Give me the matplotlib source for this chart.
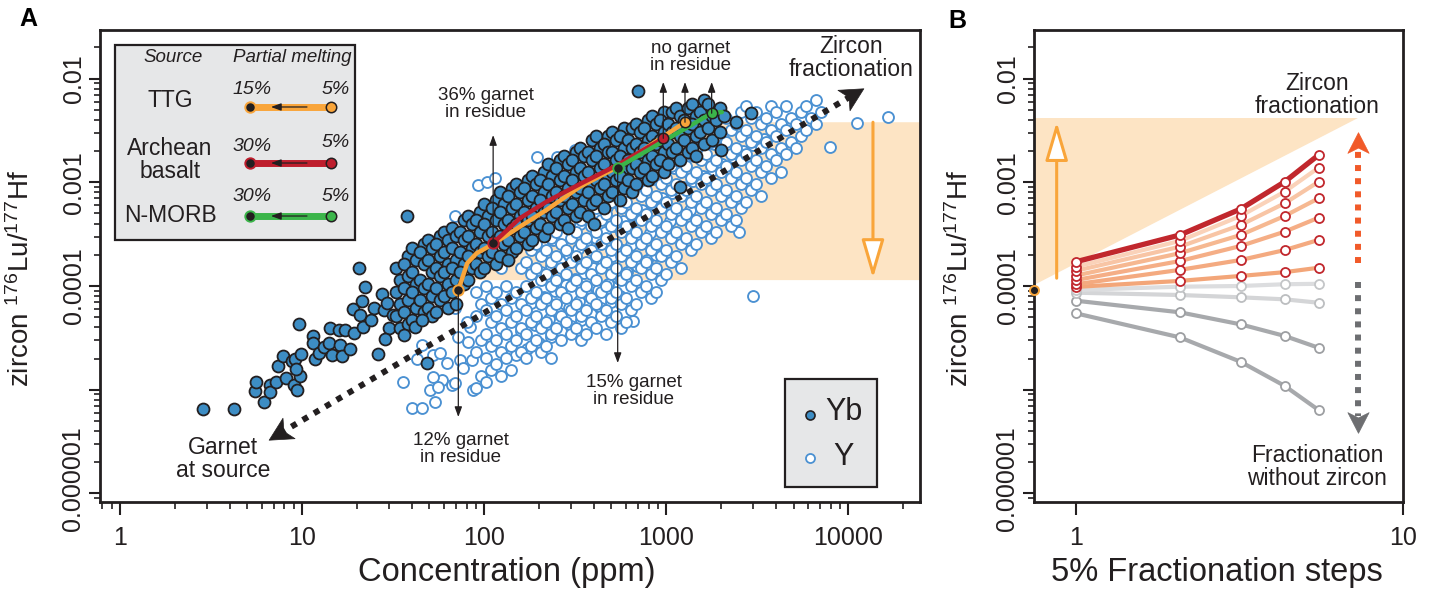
import numpy as np
import matplotlib
matplotlib.use("Agg")
import matplotlib.pyplot as plt
from matplotlib.path import Path
from matplotlib.markers import MarkerStyle
from matplotlib.transforms import Affine2D
from matplotlib.patches import Rectangle
from matplotlib.ticker import FixedLocator, FixedFormatter, LogLocator, NullFormatter, NullLocator

plt.rcParams['font.family'] = ['Liberation Sans', 'DejaVu Sans']
plt.rcParams['mathtext.fontset'] = 'custom'
plt.rcParams['mathtext.rm'] = 'Liberation Sans'
plt.rcParams['mathtext.it'] = 'Liberation Sans:italic'

# ------------------------------------------------------------------ data
# Panel A - zircon Yb (filled symbols): concentration (ppm) and 176Lu/177Hf
yb_ppm = [
    2.84, 4.24, 6.2, 5.5, 5.6, 6.66, 6.7, 7.2, 7.4, 7.9, 8.2, 8.8, 9.1, 9.0, 9.4, 9.7,
    9.9, 9.3, 9.6, 11.5, 11.5, 11.8, 12.4, 13.2, 14.0, 14.2, 14.6, 16.0, 16.1, 16.6, 17.3, 18.3,
    19.2, 19.0, 20.5, 22.2, 20.8, 21.2, 21.7, 24.0, 24.9, 26.2, 27.4, 28.1, 29.4, 30.0, 28.7, 31.5,
    32.8, 34.5, 32.8, 34.5, 32.8, 34.5,
    38.2, 36.3, 38.2, 36.3, 38.2, 36.3, 38.2,
    40.2, 42.3, 40.2, 42.3, 40.2, 42.3, 40.2,
    46.7, 44.4, 46.7, 44.4, 46.7, 44.4, 46.7,
    49.1, 51.7, 49.1, 51.7, 49.1, 51.7, 49.1, 51.7,
    57.2, 54.4, 57.2, 54.4, 57.2, 54.4, 57.2, 54.4,
    60.2, 63.3, 60.2, 63.3, 60.2, 63.3, 60.2, 63.3,
    66.6, 70.0, 66.6, 70.0, 66.6, 70.0, 66.6, 70.0,
    77.4, 73.6, 77.4, 73.6, 77.4, 73.6, 77.4,
    81.5, 85.7, 81.5, 85.7, 81.5, 85.7, 81.5,
    94.8, 90.1, 94.8, 90.1, 94.8, 90.1, 94.8,
    99.7, 105, 99.7, 105, 99.7, 105, 99.7,
    116, 110, 116, 110, 116, 110, 116,
    122, 128, 122, 128, 122, 128, 122,
    142, 135, 142, 135, 142, 135, 142, 135,
    149, 157, 149, 157, 149, 157, 149,
    174, 165, 174, 165, 174, 165, 174,
    183, 192, 183, 192, 183, 192, 183,
    213, 202, 213, 202, 213, 202, 213,
    224, 235, 224, 235, 224, 235, 224,
    261, 248, 261, 248, 261, 248, 261,
    274, 288, 274, 288, 274, 288, 274, 288,
    319, 303, 319, 303, 319, 303, 319,
    336, 353, 336, 353, 336, 353, 336,
    391, 372, 391, 372, 391, 372, 391, 372,
    411, 433, 411, 433, 411, 433, 411,
    479, 455, 479, 455, 479, 455, 479, 455,
    503, 530, 503, 530, 503, 530, 503,
    586, 557, 586, 557, 586, 557, 586, 557,
    648, 616, 648, 616, 648, 616, 648,
    682, 717, 682, 717, 682, 717, 682,
    793, 754, 793, 754, 793, 754, 793,
    834, 878, 834, 878, 834, 878, 834,
    971, 923, 971, 923, 971, 923, 971,
    1074, 1021, 1074, 1021, 1074, 1021,
    1130, 1189, 1130, 1189, 1130, 1189,
    1315, 1250, 1315, 1250, 1315,
    1383, 1455, 1383, 1455, 1383, 1455,
    1610, 1531, 1610, 1531, 1610,
    1694, 1782, 1694, 1782,
    1972, 1874, 1972,
    2074,
    700, 2930, 2400, 2000, 1190, 400, 37.5, 48.6, 36.5, 41.7, 45.7,
]
yb_ratio = [
    6.5e-6, 6.5e-6, 7.7e-6, 9.7e-6, 1.2e-5, 1.1e-5, 9.5e-6, 1.2e-5, 1.7e-5, 2.1e-5, 1.3e-5, 1.9e-5, 2.0e-5, 1.1e-5, 1.0e-5, 1.35e-5,
    2.2e-5, 1.6e-5, 4.3e-5, 3.3e-5, 2.8e-5, 2.0e-5, 2.25e-5, 2.6e-5, 2.85e-5, 3.9e-5, 2.15e-5, 3.8e-5, 2.7e-5, 2.1e-5, 3.8e-5, 2.45e-5,
    3.5e-5, 6.0e-5, 1.5e-4, 9.85e-5, 5.3e-5, 7.2e-5, 4.05e-5, 4.7e-5, 6.2e-5, 2.2e-5, 8.3e-5, 5.9e-5, 6.9e-5, 3.9e-5, 3.1e-5, 5.2e-5,
    1.49e-4, 1.14e-4, 8.8e-5, 6.7e-5, 5.1e-5, 3.9e-5,
    1.95e-4, 1.63e-4, 1.25e-4, 9.6e-5, 7.33e-5, 5.6e-5, 4.3e-5,
    2.33e-4, 1.78e-4, 1.37e-4, 1.05e-4, 8.8e-5, 6.1e-5, 4.7e-5,
    2.54e-4, 2.13e-4, 1.63e-4, 1.14e-4, 9.6e-5, 7.33e-5, 5.6e-5,
    2.78e-4, 2.33e-4, 1.78e-4, 1.37e-4, 1.05e-4, 8.0e-5, 6.1e-5, 5.1e-5,
    3.04e-4, 2.54e-4, 1.95e-4, 1.49e-4, 1.25e-4, 9.6e-5, 7.33e-5, 5.6e-5,
    3.32e-4, 2.78e-4, 2.13e-4, 1.63e-4, 1.37e-4, 1.05e-4, 8.0e-5, 6.1e-5,
    3.63e-4, 3.04e-4, 2.33e-4, 1.78e-4, 1.49e-4, 1.14e-4, 8.8e-5, 6.7e-5,
    4.33e-4, 3.32e-4, 2.78e-4, 2.13e-4, 1.63e-4, 1.37e-4, 1.05e-4,
    4.7e-4, 3.96e-4, 3.04e-4, 2.33e-4, 1.95e-4, 1.49e-4, 1.14e-4,
    5.2e-4, 4.33e-4, 3.32e-4, 2.54e-4, 2.13e-4, 1.63e-4, 1.37e-4,
    6.2e-4, 4.7e-4, 3.96e-4, 3.04e-4, 2.33e-4, 1.95e-4, 1.49e-4,
    6.74e-4, 5.6e-4, 4.33e-4, 3.32e-4, 2.78e-4, 2.13e-4, 1.63e-4,
    8.1e-4, 6.2e-4, 5.2e-4, 3.96e-4, 3.04e-4, 2.54e-4, 1.95e-4,
    8.8e-4, 7.4e-4, 5.6e-4, 4.33e-4, 3.63e-4, 2.78e-4, 2.13e-4, 1.78e-4,
    9.6e-4, 8.1e-4, 6.2e-4, 4.7e-4, 3.96e-4, 3.04e-4, 2.33e-4,
    1.05e-3, 8.8e-4, 6.74e-4, 5.2e-4, 4.33e-4, 3.32e-4, 2.54e-4,
    1.15e-3, 9.6e-4, 7.4e-4, 5.6e-4, 4.7e-4, 3.63e-4, 2.78e-4,
    1.26e-3, 1.05e-3, 8.1e-4, 6.74e-4, 5.2e-4, 3.96e-4, 3.04e-4,
    1.5e-3, 1.15e-3, 9.6e-4, 7.4e-4, 5.6e-4, 4.7e-4, 3.63e-4,
    1.64e-3, 1.37e-3, 1.05e-3, 8.1e-4, 6.74e-4, 5.2e-4, 3.96e-4,
    1.79e-3, 1.5e-3, 1.15e-3, 8.8e-4, 7.4e-4, 5.6e-4, 4.33e-4, 3.63e-4,
    1.96e-3, 1.64e-3, 1.26e-3, 1.05e-3, 8.1e-4, 6.2e-4, 4.7e-4,
    2.14e-3, 1.79e-3, 1.37e-3, 1.15e-3, 8.8e-4, 6.74e-4, 5.2e-4,
    2.55e-3, 1.96e-3, 1.64e-3, 1.26e-3, 9.6e-4, 8.1e-4, 6.2e-4, 4.7e-4,
    2.79e-3, 2.14e-3, 1.79e-3, 1.37e-3, 1.05e-3, 8.8e-4, 6.74e-4,
    2.79e-3, 2.34e-3, 1.96e-3, 1.5e-3, 1.15e-3, 9.6e-4, 7.4e-4, 5.6e-4,
    3.05e-3, 2.55e-3, 1.96e-3, 1.64e-3, 1.26e-3, 1.05e-3, 8.1e-4,
    3.33e-3, 2.79e-3, 2.14e-3, 1.79e-3, 1.37e-3, 1.15e-3, 8.8e-4, 6.74e-4,
    3.33e-3, 2.55e-3, 2.14e-3, 1.64e-3, 1.37e-3, 1.05e-3, 8.1e-4,
    3.64e-3, 3.05e-3, 2.34e-3, 1.96e-3, 1.5e-3, 1.26e-3, 9.6e-4,
    3.98e-3, 3.33e-3, 2.55e-3, 2.14e-3, 1.64e-3, 1.37e-3, 1.05e-3,
    4.35e-3, 3.64e-3, 2.79e-3, 2.34e-3, 1.79e-3, 1.5e-3, 1.15e-3,
    4.75e-3, 3.98e-3, 3.05e-3, 2.55e-3, 1.96e-3, 1.64e-3, 1.26e-3,
    4.75e-3, 3.64e-3, 3.05e-3, 2.34e-3, 1.96e-3, 1.5e-3,
    5.19e-3, 4.35e-3, 3.33e-3, 2.79e-3, 2.14e-3, 1.64e-3,
    5.19e-3, 3.98e-3, 3.33e-3, 2.55e-3, 1.96e-3,
    5.67e-3, 4.35e-3, 3.64e-3, 2.79e-3, 2.14e-3, 1.79e-3,
    6.21e-3, 4.75e-3, 3.98e-3, 3.05e-3, 2.34e-3,
    5.67e-3, 4.35e-3, 3.33e-3, 2.55e-3,
    5.19e-3, 3.98e-3, 3.05e-3,
    4.35e-3,
    7.6e-3, 4.6e-3, 3.85e-3, 2.05e-3, 9.1e-4, 4.0e-4, 4.7e-4, 1.8e-5, 3.4e-5, 4.05e-5, 4.7e-5,
]

# Panel A - zircon Y (open symbols)
y_ppm = [
    35.8, 40.0, 45.4, 53.7, 50.4, 58.4, 42.6, 45.4, 52.3, 57.2, 62.2, 52.3, 55.8, 66.3, 69.0, 73.6,
    69.0, 72.0, 76.3, 86.8, 83.6, 82.0, 85.4, 80.4, 69.0, 92.5, 103, 114, 194, 250, 315, 11150,
    16500, 7925, 2990, 656, 2500,
    90.1, 96.0, 90.1, 96.0, 90.1, 96.0, 90.1,
    102.3, 109, 102.3, 109, 102.3, 109, 102.3, 109, 102.3,
    124, 116.1, 124, 116.1, 124, 116.1, 124, 116.1, 124,
    131.8, 140, 131.8, 140, 131.8, 140, 131.8, 140,
    159, 149.5, 159, 149.5, 159, 149.5, 159,
    181, 169.6, 181, 169.6, 181, 169.6, 181, 169.6, 181, 169.6,
    192.5, 205, 192.5, 205, 192.5, 205, 192.5, 205, 192.5, 205,
    233, 218.5, 233, 218.5, 233, 218.5, 233, 218.5, 233, 218.5, 233,
    248, 264, 248, 264, 248, 264, 248, 264, 248, 264,
    281.3, 300, 281.3, 300, 281.3, 300, 281.3, 300, 281.3, 300,
    340, 319.3, 340, 319.3, 340, 319.3, 340, 319.3, 340, 319.3, 340,
    362.3, 386, 362.3, 386, 362.3, 386, 362.3, 386, 362.3, 386, 362.3,
    411.1, 438, 411.1, 438, 411.1, 438, 411.1, 438, 411.1, 438, 411.1,
    497, 466.7, 497, 466.7, 497, 466.7, 497, 466.7, 497, 466.7, 497, 466.7,
    529.5, 564, 529.5, 564, 529.5, 564, 529.5, 564, 529.5, 564, 529.5, 564,
    640, 600.8, 640, 600.8, 640, 600.8, 640, 600.8, 640, 600.8, 640, 600.8,
    681.8, 726, 681.8, 726, 681.8, 726, 681.8, 726, 681.8, 726, 681.8,
    824, 773.6, 824, 773.6, 824, 773.6, 824, 773.6, 824, 773.6, 824,
    877.8, 935, 877.8, 935, 877.8, 935, 877.8, 935, 877.8, 935, 877.8,
    1061, 996.3, 1061, 996.3, 1061, 996.3, 1061, 996.3, 1061, 996.3,
    1130, 1204, 1130, 1204, 1130, 1204, 1130, 1204, 1130, 1204,
    1366, 1283, 1366, 1283, 1366, 1283, 1366, 1283, 1366,
    1456, 1550, 1456, 1550, 1456, 1550, 1456, 1550, 1456,
    1760, 1652, 1760, 1652, 1760, 1652, 1760, 1652, 1760,
    1875, 1997, 1875, 1997, 1875, 1997, 1875, 1997, 1875,
    2128, 2266, 2128, 2266, 2128, 2266, 2128, 2266, 2128, 2266,
    2571, 2414, 2571, 2414, 2571, 2414, 2571, 2414, 2571, 2414,
    2740, 2918, 2740, 2918, 2740, 2918, 2740, 2918, 2740,
    3109, 3311, 3109, 3311, 3109, 3311, 3109, 3311,
    3758, 3528, 3758, 3528, 3758, 3528, 3758,
    4004, 4264, 4004, 4264, 4004, 4264,
    4544, 4839, 4544, 4839, 4544,
    5492, 5155, 5492, 5155,
    5851, 6232, 5851,
    6640, 7073, 6640,
]
y_ratio = [
    1.2e-5, 6.6e-6, 6.6e-6, 7.7e-6, 1.0e-5, 1.24e-5, 2.0e-5, 2.7e-5, 2.16e-5, 2.26e-5, 1.81e-5, 1.33e-5, 1.06e-5, 1.11e-5, 1.16e-5, 1.94e-5,
    6.1e-5, 3.25e-5, 1.61e-5, 9.95e-6, 4.06e-5, 2.9e-5, 1.94e-5, 4.5e-5, 4.73e-4, 9.4e-4, 1.01e-3, 1.09e-3, 1.76e-3, 1.76e-3, 2.05e-3, 3.73e-3,
    4.26e-3, 2.19e-3, 8.0e-5, 4.6e-5, 3.32e-4,
    8.75e-5, 6.70e-5, 5.14e-5, 3.02e-5, 2.31e-5, 1.36e-5, 1.04e-5,
    1.0e-4, 7.66e-5, 5.87e-5, 4.50e-5, 3.45e-5, 2.64e-5, 2.02e-5, 1.55e-5, 1.19e-5,
    1.49e-4, 8.75e-5, 6.70e-5, 5.14e-5, 3.94e-5, 3.02e-5, 2.31e-5, 1.77e-5, 1.36e-5,
    1.0e-4, 7.66e-5, 5.87e-5, 4.50e-5, 3.45e-5, 2.64e-5, 2.02e-5, 1.55e-5,
    1.49e-4, 8.75e-5, 6.70e-5, 5.14e-5, 3.94e-5, 3.02e-5, 2.31e-5,
    2.22e-4, 1.70e-4, 1.31e-4, 1.0e-4, 7.66e-5, 5.87e-5, 4.50e-5, 3.45e-5, 2.64e-5, 2.02e-5,
    2.54e-4, 1.95e-4, 1.49e-4, 1.14e-4, 8.75e-5, 6.70e-5, 5.14e-5, 3.94e-5, 3.02e-5, 2.31e-5,
    2.90e-4, 2.22e-4, 1.70e-4, 1.31e-4, 1.0e-4, 7.66e-5, 5.87e-5, 4.50e-5, 3.45e-5, 2.64e-5, 2.02e-5,
    3.32e-4, 2.54e-4, 1.95e-4, 1.49e-4, 1.14e-4, 8.75e-5, 6.70e-5, 5.14e-5, 3.94e-5, 3.02e-5,
    3.79e-4, 2.90e-4, 2.22e-4, 1.70e-4, 1.31e-4, 1.0e-4, 7.66e-5, 5.87e-5, 4.50e-5, 3.45e-5,
    4.33e-4, 3.32e-4, 2.54e-4, 1.95e-4, 1.49e-4, 1.14e-4, 8.75e-5, 6.70e-5, 5.14e-5, 3.94e-5, 3.02e-5,
    4.94e-4, 3.79e-4, 2.90e-4, 2.22e-4, 1.70e-4, 1.31e-4, 1.0e-4, 7.66e-5, 5.87e-5, 4.50e-5, 3.45e-5,
    5.65e-4, 4.33e-4, 3.32e-4, 2.54e-4, 1.95e-4, 1.49e-4, 1.14e-4, 8.75e-5, 6.70e-5, 5.14e-5, 3.94e-5,
    6.45e-4, 4.94e-4, 3.79e-4, 2.90e-4, 2.22e-4, 1.70e-4, 1.31e-4, 1.0e-4, 7.66e-5, 5.87e-5, 4.50e-5, 3.45e-5,
    7.37e-4, 5.65e-4, 4.33e-4, 3.32e-4, 2.54e-4, 1.95e-4, 1.49e-4, 1.14e-4, 8.75e-5, 6.70e-5, 5.14e-5, 3.94e-5,
    8.42e-4, 6.45e-4, 4.94e-4, 3.79e-4, 2.90e-4, 2.22e-4, 1.70e-4, 1.31e-4, 1.0e-4, 7.66e-5, 5.87e-5, 4.50e-5,
    9.6e-4, 7.37e-4, 5.65e-4, 4.33e-4, 3.32e-4, 2.54e-4, 1.95e-4, 1.49e-4, 1.14e-4, 8.75e-5, 6.70e-5,
    1.10e-3, 8.42e-4, 6.45e-4, 4.94e-4, 3.79e-4, 2.90e-4, 2.22e-4, 1.70e-4, 1.31e-4, 1.0e-4, 7.66e-5,
    1.26e-3, 9.6e-4, 7.37e-4, 5.65e-4, 4.33e-4, 3.32e-4, 2.54e-4, 1.95e-4, 1.49e-4, 1.14e-4, 8.75e-5,
    1.43e-3, 1.10e-3, 8.42e-4, 6.45e-4, 4.94e-4, 3.79e-4, 2.90e-4, 2.22e-4, 1.70e-4, 1.31e-4,
    1.64e-3, 1.26e-3, 9.6e-4, 7.37e-4, 5.65e-4, 4.33e-4, 3.32e-4, 2.54e-4, 1.95e-4, 1.49e-4,
    1.87e-3, 1.43e-3, 1.10e-3, 8.42e-4, 6.45e-4, 4.94e-4, 3.79e-4, 2.90e-4, 2.22e-4,
    2.14e-3, 1.64e-3, 1.26e-3, 9.6e-4, 7.37e-4, 5.65e-4, 4.33e-4, 3.32e-4, 2.54e-4,
    2.44e-3, 1.87e-3, 1.43e-3, 1.10e-3, 8.42e-4, 6.45e-4, 4.94e-4, 3.79e-4, 2.90e-4,
    2.79e-3, 2.14e-3, 1.64e-3, 1.26e-3, 9.6e-4, 7.37e-4, 5.65e-4, 4.33e-4, 3.32e-4,
    4.16e-3, 3.19e-3, 2.44e-3, 1.87e-3, 1.43e-3, 1.10e-3, 8.42e-4, 6.45e-4, 4.94e-4, 3.79e-4,
    4.75e-3, 3.64e-3, 2.79e-3, 2.14e-3, 1.64e-3, 1.26e-3, 9.6e-4, 7.37e-4, 5.65e-4, 4.33e-4,
    5.43e-3, 4.16e-3, 3.19e-3, 2.44e-3, 1.87e-3, 1.43e-3, 1.10e-3, 8.42e-4, 6.45e-4,
    4.75e-3, 3.64e-3, 2.79e-3, 2.14e-3, 1.64e-3, 1.26e-3, 9.6e-4, 7.37e-4,
    5.43e-3, 4.16e-3, 3.19e-3, 2.44e-3, 1.87e-3, 1.43e-3, 1.10e-3,
    4.75e-3, 3.64e-3, 2.79e-3, 2.14e-3, 1.64e-3, 1.26e-3,
    5.43e-3, 4.16e-3, 3.19e-3, 2.44e-3, 1.87e-3,
    4.75e-3, 3.64e-3, 2.79e-3, 2.14e-3,
    5.43e-3, 4.16e-3, 3.19e-3,
    6.21e-3, 4.75e-3, 3.64e-3,
]
# extra Y points filling the dense core of the open-symbol cloud
y_core_ppm = [
    210, 240, 270, 300, 335, 370, 420, 470, 525, 590, 660, 745, 850, 960, 1100, 1250, 1420, 1620, 1830, 2050,
    205, 232, 262, 292, 328, 362, 410, 460, 515, 580, 650, 735, 835, 945, 1080, 1230, 1400, 1590, 1800, 2020, 2330, 2650, 3000, 3420,
    180, 214, 246, 280, 315, 352, 398, 448, 505, 568, 640, 720, 815, 925, 1050, 1190, 1350, 1540,
    160, 190, 226, 258, 292, 330, 372, 420, 478, 540, 605, 690, 780, 880,
    150, 172, 200, 232, 264, 300, 342, 388, 440, 500, 560,
]
y_core_ratio = [
    2.45e-4, 2.75e-4, 3.1e-4, 3.5e-4, 3.95e-4, 4.45e-4, 5.1e-4, 5.75e-4, 6.5e-4, 7.4e-4, 8.4e-4, 9.5e-4, 1.08e-3, 1.22e-3, 1.38e-3, 1.58e-3, 1.8e-3, 2.05e-3, 2.35e-3, 2.65e-3,
    1.35e-4, 1.55e-4, 1.75e-4, 2.0e-4, 2.25e-4, 2.55e-4, 2.9e-4, 3.3e-4, 3.75e-4, 4.25e-4, 4.8e-4, 5.45e-4, 6.2e-4, 7.0e-4, 7.95e-4, 9.0e-4, 1.02e-3, 1.16e-3, 1.32e-3, 1.5e-3, 1.75e-3, 2.0e-3, 2.3e-3, 2.6e-3,
    6.8e-5, 7.8e-5, 8.9e-5, 1.02e-4, 1.16e-4, 1.32e-4, 1.5e-4, 1.7e-4, 1.95e-4, 2.2e-4, 2.5e-4, 2.85e-4, 3.25e-4, 3.7e-4, 4.2e-4, 4.8e-4, 5.45e-4, 6.2e-4,
    3.7e-5, 4.2e-5, 4.8e-5, 5.5e-5, 6.2e-5, 7.1e-5, 8.1e-5, 9.2e-5, 1.05e-4, 1.2e-4, 1.36e-4, 1.55e-4, 1.77e-4, 2.0e-4,
    2.15e-5, 2.45e-5, 2.8e-5, 3.2e-5, 3.65e-5, 4.15e-5, 4.7e-5, 5.4e-5, 6.1e-5, 7.0e-5, 8.0e-5,
]
assert len(yb_ppm) == len(yb_ratio), (len(yb_ppm), len(yb_ratio))
assert len(y_ppm) == len(y_ratio), (len(y_ppm), len(y_ratio))
assert len(y_core_ppm) == len(y_core_ratio), (len(y_core_ppm), len(y_core_ratio))

# melting curves (15% -> 5%, 30% -> 5%)
ttg_ppm = [72.1, 80.7, 90.9, 112, 157, 220, 336, 534, 1267]
ttg_ratio = [9.15e-5, 1.66e-4, 2.07e-4, 2.54e-4, 3.73e-4, 5.41e-4, 9.06e-4, 1.39e-3, 3.79e-3]
basalt_ppm = [112, 125, 157, 220, 336, 541, 963]
basalt_ratio = [2.61e-4, 3.10e-4, 4.50e-4, 6.50e-4, 9.62e-4, 1.47e-3, 2.65e-3]
morb_ppm = [541, 1775, 2020]
morb_ratio = [1.38e-3, 4.63e-3, 4.75e-3]

band_low, band_high = 1.14e-4, 3.79e-3          # zircon-fractionation field, panel A
band_left_ppm = 75.2

# Panel B - fractionation steps
steps = [1.0, 2.08, 3.19, 4.35, 5.52]
zrc_1 = [1.71e-4, 3.10e-4, 5.52e-4, 1.01e-3, 1.83e-3]
zrc_2 = [1.53e-4, 2.72e-4, 4.73e-4, 8.11e-4, 1.38e-3]
zrc_3 = [1.40e-4, 2.39e-4, 3.87e-4, 6.27e-4, 1.01e-3]
zrc_4 = [1.26e-4, 2.07e-4, 3.10e-4, 4.73e-4, 7.00e-4]
zrc_5 = [1.14e-4, 1.74e-4, 2.43e-4, 3.34e-4, 4.55e-4]
zrc_6 = [1.04e-4, 1.43e-4, 1.78e-4, 2.22e-4, 2.78e-4]
zrc_7 = [9.8e-5, 1.12e-4, 1.25e-4, 1.36e-4, 1.50e-4]
nozrc_1 = [9.15e-5, 9.85e-5, 1.00e-4, 1.04e-4, 1.05e-4]
nozrc_2 = [8.62e-5, 8.19e-5, 7.78e-5, 7.44e-5, 6.90e-5]
nozrc_3 = [7.22e-5, 5.58e-5, 4.27e-5, 3.30e-5, 2.54e-5]
nozrc_4 = [5.46e-5, 3.20e-5, 1.86e-5, 1.09e-5, 6.38e-6]
start_step, start_ratio = 0.746, 9.15e-5
fieldB_x = [0.746, 0.746, 7.29]
fieldB_y = [1.02e-4, 4.13e-3, 4.13e-3]

# ------------------------------------------------------------------ style
INK = '#231f20'
BLUE_FILL = '#3d8dc4'
BLUE_EDGE = '#4b91d2'
ORANGE = '#f9a53a'
RED = '#be1e2d'
GREEN = '#3bb54a'
BAND = '#fde4c4'
BOX = '#e6e7e8'

W, H = 1433, 589
fig = plt.figure(figsize=(W / 100, H / 100), dpi=100)
axA = fig.add_axes([100 / W, 87 / H, 820 / W, 472 / H])
axB = fig.add_axes([1034 / W, 87 / H, 369 / W, 472 / H])

for ax in (axA, axB):
    ax.set_xscale('log')
    ax.set_yscale('log')
    ax.set_ylim(8.28e-7, 2.935e-2)
    for s in ax.spines.values():
        s.set_linewidth(2.0)
        s.set_color(INK)
    ax.yaxis.set_major_locator(FixedLocator([1e-6, 1e-5, 1e-4, 1e-3, 1e-2]))
    ax.yaxis.set_major_formatter(FixedFormatter(['    0.000001', '', '0.0001', '0.001', '0.01']))
    ax.yaxis.set_minor_locator(LogLocator(base=10, subs=np.arange(2, 10), numticks=30))
    ax.yaxis.set_minor_formatter(NullFormatter())
    ax.tick_params(axis='both', which='major', direction='out', width=1.5, color=INK,
                   labelcolor=INK, labelsize=18)
    ax.tick_params(axis='x', which='major', length=9, pad=8)
    ax.tick_params(axis='x', which='minor', length=5, width=1.2, direction='out', color=INK)
    ax.tick_params(axis='y', which='major', length=8, pad=2, labelrotation=90)
    ax.tick_params(axis='y', which='minor', length=4, width=1.2, direction='out', color=INK)

axA.set_xlim(0.7765, 24740)
axA.xaxis.set_major_locator(FixedLocator([1, 10, 100, 1000, 10000]))
axA.xaxis.set_major_formatter(FixedFormatter(['1', '10', '100', '1000', '10000']))
axA.xaxis.set_minor_locator(LogLocator(base=10, subs=np.arange(2, 10), numticks=30))
axA.xaxis.set_minor_formatter(NullFormatter())

axB.set_xlim(0.746, 10)
axB.xaxis.set_major_locator(FixedLocator([1, 10]))
axB.xaxis.set_major_formatter(FixedFormatter(['1', '10']))
axB.xaxis.set_minor_locator(NullLocator())

for ax in (axA, axB):
    for lab in ax.get_yticklabels():
        lab.set_va('center')


def chevron(ax, x, y, angle, color, size, z):
    verts = [(1.0, 0.0), (-0.75, 0.9), (-0.3, 0.0), (-0.75, -0.9), (1.0, 0.0)]
    codes = [Path.MOVETO, Path.LINETO, Path.LINETO, Path.LINETO, Path.CLOSEPOLY]
    m = MarkerStyle(Path(verts, codes), transform=Affine2D().rotate_deg(angle))
    ax.plot([x], [y], linestyle='none', marker=m, ms=size, mfc=color, mec=color,
            mew=0.5, zorder=z, clip_on=False)


def thin_arrow(ax, x, y0, y1):
    ax.annotate('', xy=(x, y1), xytext=(x, y0),
                arrowprops=dict(arrowstyle='-|>,head_length=0.6,head_width=0.22', color=INK,
                                lw=0.9, shrinkA=0, shrinkB=0, mutation_scale=10),
                zorder=9)


def open_arrow(ax, x, y0, y1):
    ax.annotate('', xy=(x, y1), xytext=(x, y0),
                arrowprops=dict(arrowstyle='-|>,head_length=1.7,head_width=0.5', ec=ORANGE,
                                fc='white', lw=2.2, shrinkA=0, shrinkB=0, mutation_scale=14),
                zorder=3)


# ------------------------------------------------------------------ panel A
bx = [band_left_ppm] + ttg_ppm[1:] + [40000, 40000]
by = [band_low] + ttg_ratio[1:] + [band_high, band_low]
axA.fill(bx, by, color=BAND, lw=0, zorder=0.5)
open_arrow(axA, 13650, band_high, 1.19e-4)

axA.scatter(y_core_ppm, y_core_ratio, s=62, facecolors='white', edgecolors=BLUE_EDGE, linewidths=1.35, zorder=2)
axA.scatter(y_ppm, y_ratio, s=62, facecolors='white', edgecolors=BLUE_EDGE, linewidths=1.35, zorder=2)

ga_x = [7.57, 10500]
ga_y = [3.8e-6, 6.86e-3]
axA.plot(ga_x, ga_y, color=INK, lw=4.3, dashes=(1.0, 1.2), zorder=3)
p0 = axA.transData.transform((ga_x[0], ga_y[0]))
p1 = axA.transData.transform((ga_x[1], ga_y[1]))
ang = np.degrees(np.arctan2(p1[1] - p0[1], p1[0] - p0[0]))
chevron(axA, ga_x[1], ga_y[1], ang, INK, 19, 3.5)
chevron(axA, ga_x[0], ga_y[0], ang + 180, INK, 19, 3.5)

axA.scatter(yb_ppm, yb_ratio, s=74, facecolors=BLUE_FILL, edgecolors=INK, linewidths=1.3, zorder=4)

# thin annotation arrows
thin_arrow(axA, basalt_ppm[0], basalt_ratio[0], 2.85e-3)
thin_arrow(axA, ttg_ppm[0], ttg_ratio[0], 5.46e-6)
thin_arrow(axA, morb_ppm[0], morb_ratio[0], 1.81e-5)
thin_arrow(axA, basalt_ppm[-1], basalt_ratio[-1], 9.25e-3)
thin_arrow(axA, ttg_ppm[-1], ttg_ratio[-1], 9.25e-3)
thin_arrow(axA, morb_ppm[1], morb_ratio[1], 9.25e-3)

# melting curves
axA.plot(ttg_ppm, ttg_ratio, color=ORANGE, lw=3.2, zorder=6, solid_capstyle='round')
axA.plot(basalt_ppm, basalt_ratio, color=RED, lw=3.2, zorder=6.1, solid_capstyle='round')
axA.plot(morb_ppm, morb_ratio, color=GREEN, lw=3.2, zorder=6.2, solid_capstyle='round')
for xs, ys, c in ((ttg_ppm, ttg_ratio, ORANGE), (basalt_ppm, basalt_ratio, RED),
                  ((morb_ppm[0], morb_ppm[1]), (morb_ratio[0], morb_ratio[1]), GREEN)):
    axA.plot([xs[0]], [ys[0]], 'o', ms=7.5, mfc=INK, mec=c, mew=1.4, zorder=7)
    axA.plot([xs[-1]], [ys[-1]], 'o', ms=7.5, mfc=c, mec=INK, mew=1.1, zorder=7)

tA = axA.transAxes
txt = dict(color=INK, ha='center', va='center', transform=tA, linespacing=1.0, zorder=10)
axA.text(0.4707, 0.843, '36% garnet\nin residue', fontsize=13.5, **txt)
axA.text(0.7207, 0.9428, 'no garnet\nin residue', fontsize=13.5, **txt)
axA.text(0.6512, 0.2352, '15% garnet\nin residue', fontsize=13.5, **txt)
axA.text(0.4402, 0.1123, '12% garnet\nin residue', fontsize=13.5, **txt)
axA.text(0.150, 0.0911, 'Garnet\nat source', fontsize=16.5, **txt)
axA.text(0.9159, 0.9407, 'Zircon\nfractionation', fontsize=16.5, **txt)

# source legend box
axA.add_patch(Rectangle((0.0183, 0.555), 0.293, 0.413, transform=tA, fc=BOX, ec=INK, lw=1.6, zorder=8))
axA.text(0.089, 0.9407, 'Source', fontsize=13.5, style='italic', **txt)
axA.text(0.234, 0.9407, 'Partial melting', fontsize=13.5, style='italic', **txt)
rows = [('TTG', 0.8496, 0.8369, ORANGE, '15%', 0.875, 0.875),
        ('Archean\nbasalt', 0.7246, 0.7182, RED, '30%', 0.754, 0.7606),
        ('N-MORB', 0.608, 0.6059, GREEN, '30%', 0.648, 0.648)]
for name, ty, ly, c, hi, hy, fy in rows:
    axA.text(0.0854, ty, name, fontsize=16.5, **txt)
    axA.text(0.1854, hy, hi, fontsize=14, style='italic', **txt)
    axA.text(0.2878, fy, '5%', fontsize=14, style='italic', **txt)
    axA.plot([0.1829, 0.2817], [ly, ly], transform=tA, color=c, lw=5, zorder=9, solid_capstyle='butt')
    axA.plot([0.1829], [ly], 'o', transform=tA, ms=7.5, mfc=INK, mec=c, mew=1.4, zorder=10)
    axA.plot([0.2817], [ly], 'o', transform=tA, ms=7.5, mfc=c, mec=INK, mew=1.1, zorder=10)
    axA.annotate('', xy=(0.2085, ly), xytext=(0.2524, ly), xycoords='axes fraction',
                 arrowprops=dict(arrowstyle='-|>,head_length=0.6,head_width=0.22', color=INK,
                                 lw=0.9, shrinkA=0, shrinkB=0, mutation_scale=10), zorder=11)

# Yb / Y legend box
axA.add_patch(Rectangle((0.835, 0.032), 0.113, 0.229, transform=tA, fc=BOX, ec=INK, lw=1.6, zorder=8))
axA.plot([0.866], [0.184], 'o', transform=tA, ms=6.5, mfc=BLUE_FILL, mec=INK, mew=1.2, zorder=9)
axA.plot([0.866], [0.093], 'o', transform=tA, ms=6.5, mfc='white', mec=BLUE_EDGE, mew=1.3, zorder=9)
axA.text(0.907, 0.191, 'Yb', fontsize=22, **txt)
axA.text(0.907, 0.095, 'Y', fontsize=22, **txt)

# ------------------------------------------------------------------ panel B
axB.fill(fieldB_x, fieldB_y, color=BAND, lw=0, zorder=0)
open_arrow(axB, 0.875, 1.19e-4, 3.81e-3)

grey_series = [(nozrc_4, '#a7a9ac', '#9d9fa2'), (nozrc_3, '#a7a9ac', '#9d9fa2'),
               (nozrc_2, '#d4d5d7', '#bcbec0'), (nozrc_1, '#dcdddf', '#c4c6c8')]
for ys, lc, mc in grey_series:
    axB.plot(steps, ys, color=lc, lw=3.0, marker='o', ms=6.5, mfc='white', mec=mc, mew=1.3,
             zorder=2, solid_capstyle='round')

red_series = [(zrc_7, '#f3a679', 3.0), (zrc_6, '#f4aa80', 3.0), (zrc_5, '#f5ae86', 3.0),
              (zrc_4, '#f6b891', 3.0), (zrc_3, '#f8c5a5', 3.0), (zrc_2, '#fad2b9', 3.0),
              (zrc_1, '#c1272d', 3.8)]
for i, (ys, lc, lw) in enumerate(red_series):
    axB.plot(steps, ys, color=lc, lw=lw, marker='o', ms=6.5, mfc='white', mec='#c1272d', mew=1.3,
             zorder=3 + 0.1 * i, solid_capstyle='round')

axB.plot([start_step], [start_ratio], 'o', ms=6.5, mfc=INK, mec=ORANGE, mew=1.4, zorder=8, clip_on=False)

axB.plot([7.29, 7.29], [1.67e-4, 2.15e-3], color='#f15a29', lw=4.3, dashes=(1.0, 1.2), zorder=4)
chevron(axB, 7.29, 2.35e-3, 90, '#f15a29', 17, 4.5)
axB.plot([7.29, 7.29], [1.09e-4, 5.6e-6], color='#6d6e71', lw=4.3, dashes=(1.0, 1.2), zorder=4)
chevron(axB, 7.29, 5.0e-6, -90, '#6d6e71', 17, 4.5)

tB = axB.transAxes
txtB = dict(color=INK, ha='center', va='center', transform=tB, linespacing=1.0, zorder=10)
axB.text(0.767, 0.862, 'Zircon\nfractionation', fontsize=16.5, **txtB)
axB.text(0.767, 0.0742, 'Fractionation\nwithout zircon', fontsize=16.5, **txtB)

# ------------------------------------------------------------------ labels
ylab = 'zircon $^{176}$Lu/$^{177}$Hf'
fig.text(21 / W, 1 - 279 / H, ylab, rotation=90, fontsize=20, ha='center', va='center', color=INK)
fig.text(960 / W, 1 - 279 / H, ylab, rotation=90, fontsize=20, ha='center', va='center', color=INK)
fig.text(507 / W, 1 - 573 / H, 'Concentration (ppm)', fontsize=23.5, ha='center', va='center', color=INK)
fig.text(1217 / W, 1 - 573 / H, '5% Fractionation steps', fontsize=23.5, ha='center', va='center', color=INK)
fig.text(28 / W, 1 - 19 / H, 'A', fontsize=18, weight='bold', ha='center', va='center', color='black')
fig.text(957 / W, 1 - 21 / H, 'B', fontsize=18, weight='bold', ha='center', va='center', color='black')

fig.savefig('out.png', dpi=100, facecolor='white')
